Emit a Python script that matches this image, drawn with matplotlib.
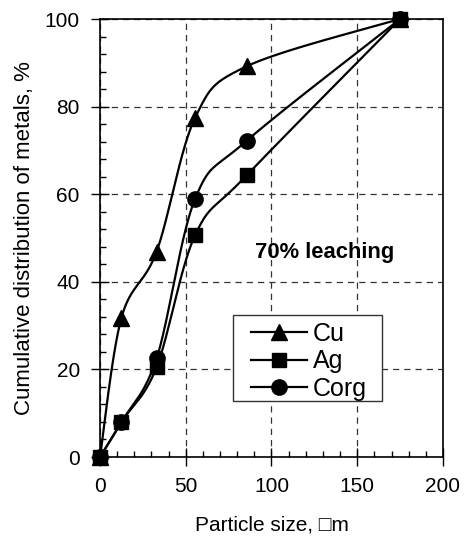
import numpy as np
import matplotlib.pyplot as plt
from matplotlib.ticker import MultipleLocator
from matplotlib.patches import Rectangle

plt.rcParams['font.family'] = ['Liberation Sans', 'DejaVu Sans']

# particle size (um) and cumulative share of each metal (%)
size = [0, 12.5, 33, 55.5, 85.5, 175]
cu = [0, 31.8, 46.9, 77.5, 89.2, 100]
ag = [0, 8.0, 20.5, 50.7, 64.3, 100]
corg = [0, 8.0, 22.5, 59.0, 72.2, 100]


def smooth(xs, ys, n=40):
    # cardinal bezier through the points, like a spreadsheet "smoothed line"
    p = np.column_stack([xs, ys]).astype(float)
    out = [p[0]]
    for i in range(len(p) - 1):
        p0 = p[i - 1] if i > 0 else p[i]
        p3 = p[i + 2] if i + 2 < len(p) else p[i + 1]
        c1 = p[i] + (p[i + 1] - p0) / 6
        c2 = p[i + 1] - (p3 - p[i]) / 6
        t = np.linspace(0, 1, n)[1:, None]
        seg = ((1 - t) ** 3 * p[i] + 3 * (1 - t) ** 2 * t * c1
               + 3 * (1 - t) * t ** 2 * c2 + t ** 3 * p[i + 1])
        out.extend(seg)
    out = np.array(out)
    return out[:, 0], out[:, 1]


fig = plt.figure(figsize=(4.66, 5.39), dpi=100)
ax = fig.add_axes([0.2146, 0.1521, 0.736, 0.8126])

series = [('Cu', cu, '^', 12), ('Ag', ag, 's', 10), ('Corg', corg, 'o', 11)]
for name, vals, mk, ms in series:
    sx, sy = smooth(size, vals)
    ax.plot(sx, sy, color='black', lw=1.6, zorder=3)
    ax.plot(size, vals, ls='none', marker=mk, ms=ms, color='black',
            zorder=4, clip_on=False)
    # legend proxy
    ax.plot([], [], color='black', lw=1.6, marker=mk, ms=ms, label=name)

ax.set_xlim(0, 200)
ax.set_ylim(0, 100)
ax.xaxis.set_major_locator(MultipleLocator(50))
ax.xaxis.set_minor_locator(MultipleLocator(10))
ax.yaxis.set_major_locator(MultipleLocator(20))
ax.yaxis.set_minor_locator(MultipleLocator(4))
ax.tick_params(which='major', direction='inout', length=13, width=1,
               labelsize=15, pad=8)
ax.tick_params(which='minor', direction='in', length=4.5, width=1)
ax.grid(True, which='major', color='#333333', ls=(0, (5, 4)), lw=0.9)
for s in ax.spines.values():
    s.set_linewidth(1.2)

ax.set_xlabel('Particle size, \u25a1m', fontsize=15, labelpad=14)
ax.set_ylabel('Cumulative distribution of metals, %', fontsize=16)
ax.yaxis.set_label_coords(-0.19, 0.5)

ax.text(130.9, 46.6, '70% leaching', fontsize=15.8, fontweight='bold',
        ha='center', va='center')

# legend box drawn separately so its padding can be set freely
ax.add_patch(Rectangle((0.387, 0.1285), 0.4353, 0.1957, transform=ax.transAxes,
                       facecolor='white', edgecolor='#333333', lw=1, zorder=5))
leg = ax.legend(loc='upper left', bbox_to_anchor=(0.4394, 0.309),
                borderaxespad=0, borderpad=0, fontsize=18, frameon=False,
                handlelength=2.24, handletextpad=0.23, labelspacing=0.15)
leg.set_zorder(6)

fig.savefig('out.png', dpi=100)
